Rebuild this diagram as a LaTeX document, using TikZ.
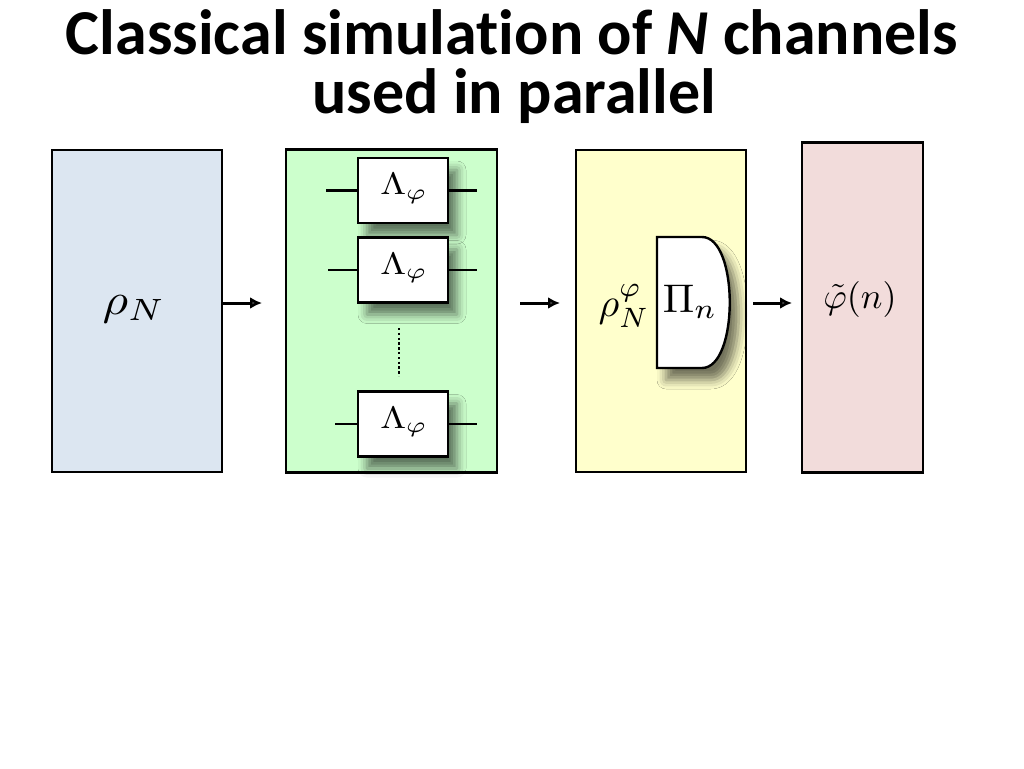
\documentclass[tikz,border=0pt]{standalone}
\usepackage{fontspec}
\newfontfamily\titlefont[Ligatures=NoCommon]{Carlito}
\usetikzlibrary{shadows.blur, arrows.meta}

\definecolor{stateblue}{RGB}{220,230,241}
\definecolor{changreen}{RGB}{204,255,204}
\definecolor{measyellow}{RGB}{255,255,204}
\definecolor{estpink}{RGB}{242,220,219}

\tikzset{
  panel/.style={draw, line width=2.8pt, inner sep=0pt},
  softshadow/.style={blur shadow={shadow xshift=9pt, shadow yshift=-12pt,
      shadow blur radius=9pt, shadow opacity=55}},
  chanbox/.style={draw, fill=white, line width=2.4pt, inner sep=0pt,
      minimum width=90pt, minimum height=65pt, softshadow},
  wire/.style={line width=2.6pt},
  flow/.style={line width=3pt, -{Latex[length=12pt, width=12pt]}},
  mathlbl/.style={anchor=base, inner sep=0pt, font=\fontsize{10}{10}\selectfont,
      scale=#1, transform shape},
  titleline/.style={anchor=base, font=\titlefont\bfseries\fontsize{64}{64}\selectfont},
}

\begin{document}
\begin{tikzpicture}[x=1pt, y=-1pt]
  \useasboundingbox (0,0) rectangle (1024,768);

  % title
  \node[titleline] (title1) at (512,55) {Classical simulation of \textit{N} channels};
  \node[titleline] (title2) at (514,113) {used in parallel};

  % the four stages
  \node[panel, fill=stateblue, minimum width=170pt, minimum height=322pt] (state) at (137,311) {};
  \node[panel, fill=changreen, minimum width=211pt, minimum height=323pt] (chans) at (391.5,311) {};
  \node[panel, fill=measyellow, minimum width=170pt, minimum height=322pt] (meas) at (661,311) {};
  \node[panel, fill=estpink, minimum width=121pt, minimum height=330pt] (est) at (862.5,307.5) {};

  \node[mathlbl=4.4, xscale=1.12] (rhoN) at (134,314) {$\rho_N$};

  % channels acting in parallel
  \foreach \y/\l [count=\i] in {190.5/326, 270/328, 424/335} {
    \node[chanbox] (chan\i) at (403,\y) {};
    \node[mathlbl=3.1, xscale=1.2] (lam\i) at (404,\y+4) {$\Lambda_\varphi$};
    \coordinate (in\i) at (\l,\y);
    \coordinate (out\i) at (477,\y);
    \draw[wire] (in\i) -- (chan\i);
    \draw[wire] (chan\i) -- (out\i);
  }
  \coordinate (dtop) at (399,328);
  \coordinate (dbot) at (399,376);
  \draw[line width=2.8pt, dash pattern=on 2.4pt off 2.4pt] (dtop) -- (dbot);

  % measurement
  \draw[line width=2.4pt, fill=white, softshadow]
    (657,237) -- (702,237) .. controls (739,237) and (739,368) .. (702,368) -- (657,368) -- cycle;
  \node[mathlbl=4.0] (rhoNphi) at (624,316) {$\rho_N^\varphi$};
  \node[mathlbl=4.0, xscale=1.05] (proj) at (690,312) {$\Pi_n$};

  \node[mathlbl=3.6] (phin) at (860,308) {$\tilde{\varphi}(n)$};

  % arrows
  \coordinate (a1) at (262,303);
  \coordinate (a2s) at (520,303);
  \coordinate (a2e) at (560,303);
  \coordinate (a3s) at (753,303);
  \coordinate (a3e) at (792,303);
  \draw[flow] (state.east |- a1) -- (a1);
  \draw[flow] (a2s) -- (a2e);
  \draw[flow] (a3s) -- (a3e);
\end{tikzpicture}
\end{document}
